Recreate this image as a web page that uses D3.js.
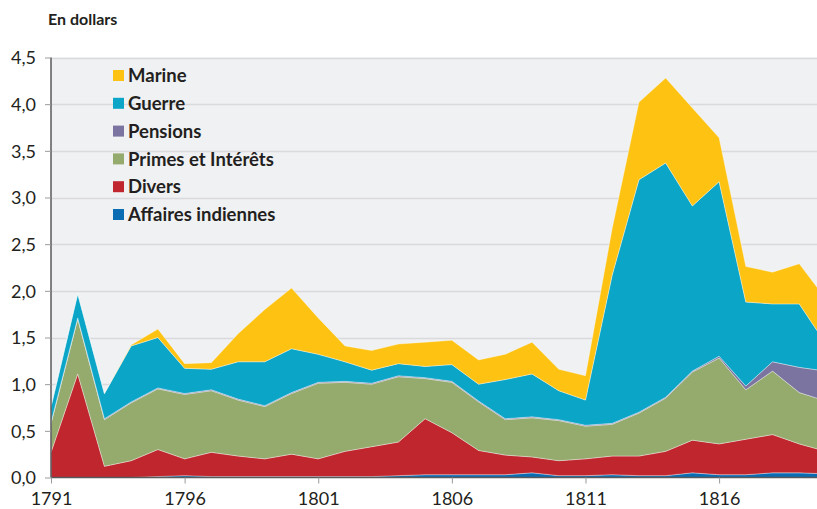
<!DOCTYPE html>
<meta charset="utf-8">
<title>Dépenses fédérales</title>
<style>
body {
  margin: 0;
  background: white;
  font-family: 'Lato', 'Open Sans', sans-serif;
}
svg { display: block; }
.tick text { fill: #231f20; font-family: 'Lato', 'Open Sans', sans-serif; }
</style>
<svg width="817" height="509"></svg>
<script src="https://d3js.org/d3.v7.min.js"></script>
<script>
// years 1791..1820, values in dollars
var years = d3.range(1791, 1821);

var affairesIndiennes = [0, 0, 0, 0, 0.01, 0.02, 0.01, 0.01, 0.01, 0.01,
  0.01, 0.01, 0.01, 0.02, 0.03, 0.03, 0.03, 0.03, 0.05, 0.02,
  0.02, 0.03, 0.02, 0.02, 0.05, 0.03, 0.03, 0.05, 0.05, 0.04];
var divers = [0.27, 1.11, 0.12, 0.18, 0.29, 0.18, 0.26, 0.22, 0.19, 0.24,
  0.19, 0.27, 0.32, 0.36, 0.60, 0.45, 0.26, 0.21, 0.17, 0.16,
  0.18, 0.20, 0.21, 0.26, 0.35, 0.33, 0.38, 0.41, 0.31, 0.24];
var primes = [0.31, 0.59, 0.50, 0.62, 0.65, 0.69, 0.66, 0.60, 0.56, 0.65,
  0.81, 0.74, 0.67, 0.70, 0.43, 0.54, 0.52, 0.38, 0.42, 0.43,
  0.35, 0.34, 0.46, 0.57, 0.73, 0.92, 0.53, 0.68, 0.55, 0.54];
var pensions = [0.01, 0.01, 0.01, 0.01, 0.01, 0.01, 0.01, 0.01, 0.01, 0.01,
  0.01, 0.01, 0.01, 0.01, 0.01, 0.01, 0.01, 0.01, 0.01, 0.01,
  0.01, 0.01, 0.01, 0.01, 0.01, 0.02, 0.04, 0.10, 0.27, 0.32];
var guerre = [0.17, 0.26, 0.27, 0.60, 0.54, 0.27, 0.22, 0.40, 0.47, 0.47,
  0.30, 0.21, 0.14, 0.13, 0.12, 0.18, 0.18, 0.42, 0.46, 0.31,
  0.27, 1.59, 2.49, 2.51, 1.77, 1.87, 0.90, 0.62, 0.68, 0.29];
var marine = [0, 0, 0, 0.01, 0.09, 0.05, 0.07, 0.30, 0.56, 0.65,
  0.39, 0.17, 0.21, 0.21, 0.26, 0.26, 0.26, 0.27, 0.34, 0.23,
  0.26, 0.50, 0.83, 0.91, 1.05, 0.47, 0.38, 0.34, 0.43, 0.48];

var series = [
  {key: "Affaires indiennes", values: affairesIndiennes, color: "#0a6db3"},
  {key: "Divers", values: divers, color: "#c0262e"},
  {key: "Primes et Intérêts", values: primes, color: "#95aa6d"},
  {key: "Pensions", values: pensions, color: "#7b74a0"},
  {key: "Guerre", values: guerre, color: "#0ba5c8"},
  {key: "Marine", values: marine, color: "#fdc212"}
];

var xTicks = [1791, 1796, 1801, 1806, 1811, 1816];
var yTicks = d3.range(0, 4.51, 0.5);

var svg = d3.select("svg");
var plotLeft = 51, plotTop = 57.5, plotBottom = 477.5, plotRight = 817;

var x = d3.scaleLinear().domain([1791, 1820]).range([plotLeft, 826]);
var y = d3.scaleLinear().domain([0, 4.5]).range([plotBottom, plotTop]);

var rows = years.map(function(yr, i) {
  var r = {year: yr};
  series.forEach(function(s) { r[s.key] = s.values[i]; });
  return r;
});
var stacked = d3.stack().keys(series.map(function(s) { return s.key; }))(rows);

// plot background
svg.append("rect")
  .attr("x", plotLeft).attr("y", plotTop)
  .attr("width", plotRight - plotLeft).attr("height", plotBottom - plotTop)
  .attr("fill", "#f0f1f3");

// grid
svg.append("g").selectAll("line")
  .data(yTicks.slice(1))
  .enter().append("line")
    .attr("x1", plotLeft).attr("x2", plotRight)
    .attr("y1", function(d) { return Math.round(y(d)) + 0.5; })
    .attr("y2", function(d) { return Math.round(y(d)) + 0.5; })
    .attr("stroke", "#d9dadd")
    .attr("stroke-width", 1.5);

var area = d3.area()
  .x(function(d) { return x(d.data.year); })
  .y0(function(d) { return y(d[0]); })
  .y1(function(d) { return y(d[1]); });

svg.append("g").selectAll("path")
  .data(stacked)
  .enter().append("path")
    .attr("d", area)
    .attr("fill", function(d, i) { return series[i].color; })
    .attr("stroke", "#ffffff")
    .attr("stroke-opacity", 0.45)
    .attr("stroke-width", 0.8);

// axes
var yAxis = svg.append("g")
  .attr("transform", "translate(" + plotLeft + ",0)")
  .call(d3.axisLeft(y).tickValues(yTicks).tickSize(6).tickPadding(9)
    .tickFormat(function(d) { return d3.format(".1f")(d).replace(".", ","); }));
yAxis.select(".domain").attr("stroke", "#58595b").attr("stroke-width", 1.5)
  .attr("d", "M0," + plotTop + "V" + plotBottom);
yAxis.selectAll(".tick line").attr("stroke", "#9a9b9e");
yAxis.selectAll("text").attr("font-size", 18).attr("dy", "0.35em");

var xAxis = svg.append("g")
  .attr("transform", "translate(0," + plotBottom + ")")
  .call(d3.axisBottom(x).tickValues(xTicks).tickSize(6).tickPadding(9)
    .tickFormat(d3.format("d")));
xAxis.select(".domain").attr("stroke", "#58595b").attr("stroke-width", 1.5)
  .attr("d", "M" + plotLeft + ",0H" + plotRight);
xAxis.selectAll(".tick line").attr("stroke", "#9a9b9e");
xAxis.selectAll("text").attr("font-size", 18);

svg.append("text")
  .attr("x", 48).attr("y", 25)
  .attr("font-size", 16).attr("font-weight", "bold")
  .attr("fill", "#231f20")
  .text("En dollars");

// legend (top to bottom: Marine first)
var legend = svg.append("g").attr("transform", "translate(113,70)");
var items = legend.selectAll("g")
  .data(series.slice().reverse())
  .enter().append("g")
    .attr("transform", function(d, i) { return "translate(0," + (i * 27.8) + ")"; });
items.append("rect")
  .attr("width", 11).attr("height", 11)
  .attr("fill", function(d) { return d.color; });
items.append("text")
  .attr("x", 15).attr("y", 5.5).attr("dy", "0.36em")
  .attr("font-size", 18.5).attr("font-weight", "bold")
  .attr("fill", "#231f20")
  .text(function(d) { return d.key; });
</script>
